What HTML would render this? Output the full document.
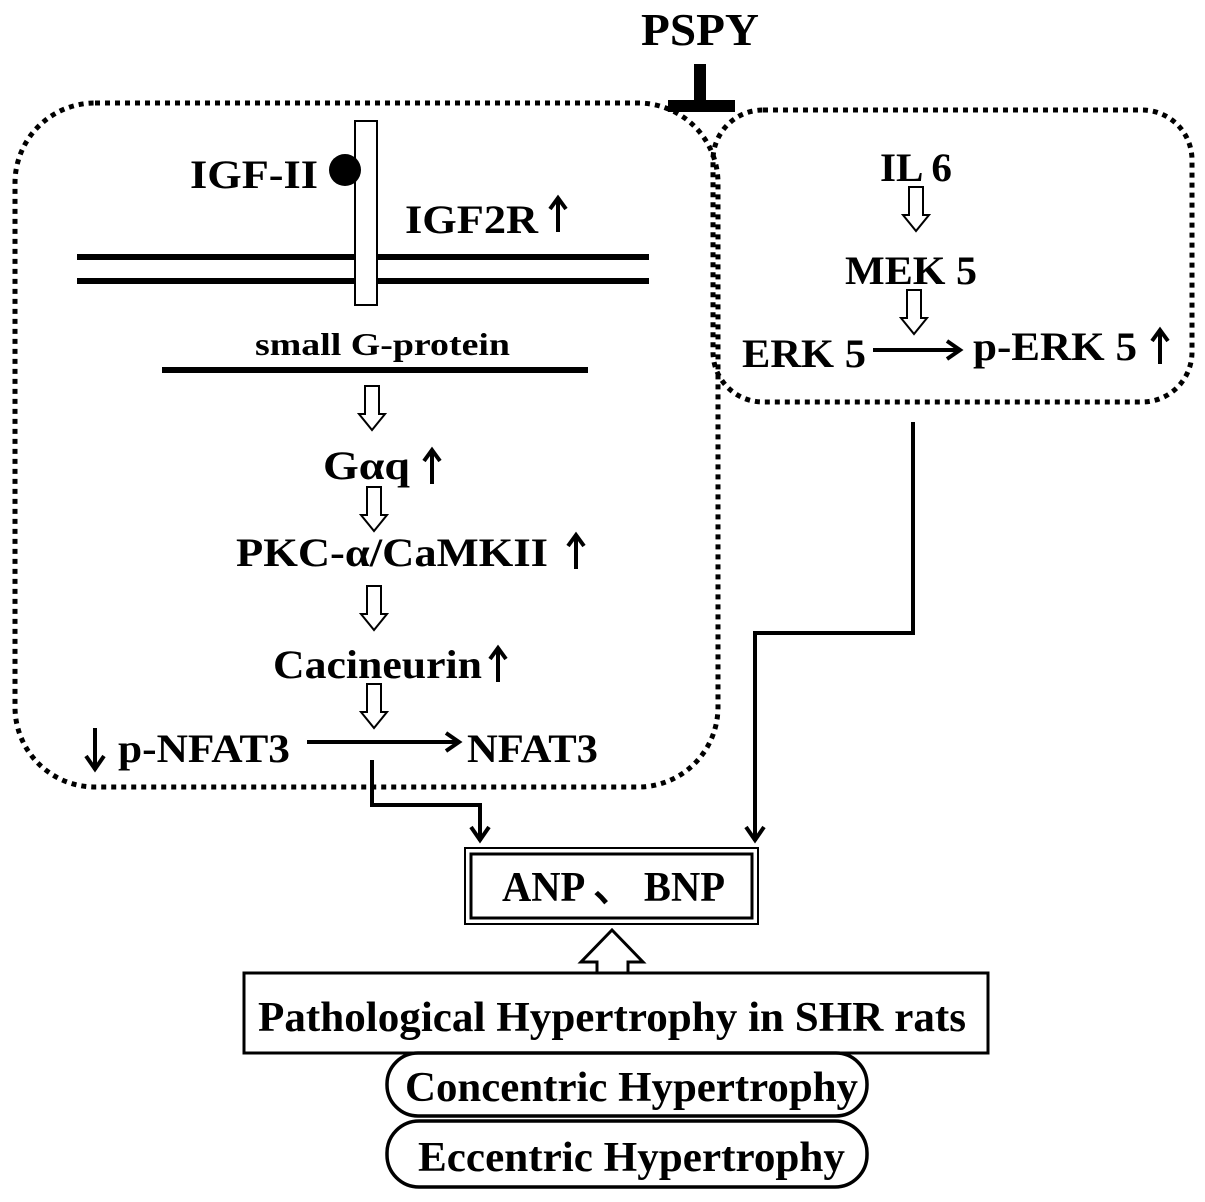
<!DOCTYPE html>
<html><head><meta charset="utf-8"><style>
html,body{margin:0;padding:0;background:#fff}
svg{display:block}
text{font-family:"Liberation Serif",serif;font-weight:bold;fill:#000}
</style></head><body>
<svg width="1205" height="1202" viewBox="0 0 1205 1202" xmlns="http://www.w3.org/2000/svg">
<defs>
<g id="ha"><path d="M-7,0 H7 V28 H13 L0,44 L-13,28 H-7 Z" fill="#fff" stroke="#000" stroke-width="2"/></g>
<g id="up"><line x1="0" y1="36" x2="0" y2="3" stroke="#000" stroke-width="4"/><path d="M-8,13 L0,2 L8,13" fill="none" stroke="#000" stroke-width="4"/></g>
<g id="dn"><line x1="0" y1="-18" x2="0" y2="0" stroke="#000" stroke-width="4"/><path d="M-9,-14 L0,-1 L9,-14" fill="none" stroke="#000" stroke-width="4"/></g>
<g id="rt"><path d="M-14,-9 L-1,0 L-14,9" fill="none" stroke="#000" stroke-width="4"/></g>
</defs>

<text x="700" y="45" font-size="46" text-anchor="middle" textLength="118" lengthAdjust="spacingAndGlyphs">PSPY</text>
<rect x="694" y="64" width="12" height="40" fill="#000"/>
<rect x="668" y="100" width="67" height="12" fill="#000"/>

<rect x="15" y="103" width="703" height="684" rx="80" fill="none" stroke="#000" stroke-width="5" stroke-dasharray="5,5"/>
<rect x="713" y="110" width="479" height="292" rx="50" fill="none" stroke="#000" stroke-width="5" stroke-dasharray="5,5"/>

<rect x="77" y="254" width="572" height="6" fill="#000"/>
<rect x="77" y="278" width="572" height="6" fill="#000"/>
<rect x="355" y="121" width="22" height="184" fill="#fff" stroke="#000" stroke-width="2"/>
<circle cx="345" cy="170" r="16" fill="#000"/>
<text x="190" y="188" font-size="40" textLength="128" lengthAdjust="spacingAndGlyphs">IGF-II</text>
<text x="405" y="233" font-size="40" textLength="133" lengthAdjust="spacingAndGlyphs">IGF2R</text>
<use href="#up" x="558" y="196"/>

<text x="255" y="355" font-size="32" textLength="255" lengthAdjust="spacingAndGlyphs">small G-protein</text>
<rect x="162" y="367" width="426" height="6" fill="#000"/>
<use href="#ha" x="372" y="386"/>
<text x="323" y="479" font-size="40" textLength="87" lengthAdjust="spacingAndGlyphs">G&#945;q</text>
<use href="#up" x="432" y="448"/>
<use href="#ha" x="374" y="487"/>
<text x="236" y="566" font-size="40" textLength="312" lengthAdjust="spacingAndGlyphs">PKC-&#945;/CaMKII</text>
<use href="#up" x="576" y="533"/>
<use href="#ha" x="374" y="586"/>
<text x="273" y="678" font-size="40" textLength="209" lengthAdjust="spacingAndGlyphs">Cacineurin</text>
<use href="#up" x="498" y="646"/>
<use href="#ha" x="374" y="684"/>
<line x1="95" y1="728" x2="95" y2="768" stroke="#000" stroke-width="4"/>
<use href="#dn" x="95" y="770"/>
<text x="118" y="762" font-size="40" textLength="172" lengthAdjust="spacingAndGlyphs">p-NFAT3</text>
<line x1="307" y1="742" x2="458" y2="742" stroke="#000" stroke-width="4"/>
<use href="#rt" x="460" y="742"/>
<text x="467" y="762" font-size="40" textLength="131" lengthAdjust="spacingAndGlyphs">NFAT3</text>

<path d="M372,760 V805 H480 V838" fill="none" stroke="#000" stroke-width="4"/>
<use href="#dn" x="480" y="841"/>
<path d="M913,422 V633 H755 V838" fill="none" stroke="#000" stroke-width="4"/>
<use href="#dn" x="755" y="841"/>

<text x="880" y="181" font-size="40" textLength="72" lengthAdjust="spacingAndGlyphs">IL 6</text>
<use href="#ha" x="916" y="187"/>
<text x="845" y="284" font-size="40" textLength="132" lengthAdjust="spacingAndGlyphs">MEK 5</text>
<use href="#ha" x="914" y="290"/>
<text x="742" y="367" font-size="40" textLength="124" lengthAdjust="spacingAndGlyphs">ERK 5</text>
<line x1="873" y1="350" x2="958" y2="350" stroke="#000" stroke-width="4"/>
<use href="#rt" x="961" y="350"/>
<text x="973" y="360" font-size="40" textLength="164" lengthAdjust="spacingAndGlyphs">p-ERK 5</text>
<use href="#up" x="1160" y="328"/>

<rect x="465" y="848" width="293" height="76" fill="#fff" stroke="#000" stroke-width="2"/>
<rect x="471" y="854" width="281" height="64" fill="none" stroke="#000" stroke-width="3"/>
<text x="502" y="901" font-size="42" textLength="223" lengthAdjust="spacingAndGlyphs">ANP &#12289; BNP</text>

<path d="M612,930 L643,962 H628 V976 H597 V962 H581 Z" fill="#fff" stroke="#000" stroke-width="3"/>
<rect x="244" y="973" width="744" height="80" fill="#fff" stroke="#000" stroke-width="3"/>
<text x="258" y="1031" font-size="42" textLength="708" lengthAdjust="spacingAndGlyphs">Pathological Hypertrophy in SHR rats</text>
<rect x="387" y="1053" width="480" height="63" rx="31" fill="#fff" stroke="#000" stroke-width="3.5"/>
<text x="405" y="1101" font-size="42" textLength="453" lengthAdjust="spacingAndGlyphs">Concentric Hypertrophy</text>
<rect x="387" y="1121" width="480" height="66" rx="32" fill="#fff" stroke="#000" stroke-width="3.5"/>
<text x="418" y="1171" font-size="42" textLength="427" lengthAdjust="spacingAndGlyphs">Eccentric Hypertrophy</text>
</svg>
</body></html>
